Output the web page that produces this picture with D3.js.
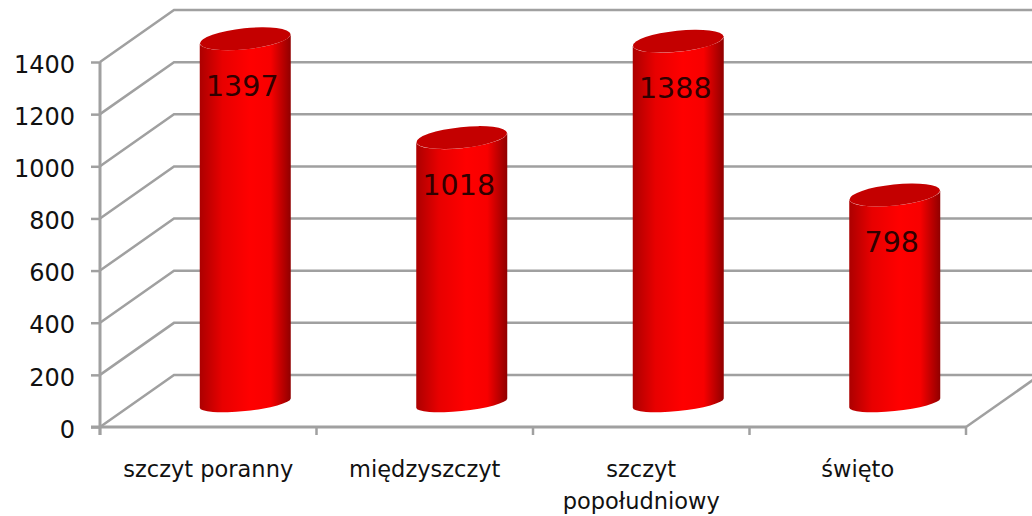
<!DOCTYPE html>
<html>
<head>
<meta charset="utf-8">
<script src="https://cdn.jsdelivr.net/npm/d3@7"></script>
<style>
  html, body { margin: 0; padding: 0; background: #fff; overflow: hidden; }
  text { font-family: "DejaVu Sans", sans-serif; fill: #111; }
</style>
</head>
<body>
<div id="my_dataviz"></div>
<script>

// values
var categories = ["szczyt poranny", "międzyszczyt", "szczyt popołudniowy", "święto"]
var values = [1397, 1018, 1388, 798]
var yTicks = [0, 200, 400, 600, 800, 1000, 1200, 1400]

var width = 1032, height = 516
var x0 = 100, x1 = 966, yBase = 427, yTop = 62
// depth of the fake 3d box
var depthX = 74, depthY = 52
var gridColor = "#a0a0a0"

var svg = d3.select("#my_dataviz")
  .append("svg")
    .attr("width", width)
    .attr("height", height)

var x = d3.scaleBand().domain(categories).range([x0, x1])
var y = d3.scaleLinear().domain([0, 1400]).range([yBase, yTop])

// gradient across the cylinder
var grad = svg.append("defs").append("linearGradient").attr("id", "barGrad")
grad.append("stop").attr("offset", "0%").attr("stop-color", "#ac0000")
grad.append("stop").attr("offset", "25%").attr("stop-color", "#e80000")
grad.append("stop").attr("offset", "55%").attr("stop-color", "#ff0000")
grad.append("stop").attr("offset", "78%").attr("stop-color", "#f80000")
grad.append("stop").attr("offset", "100%").attr("stop-color", "#900000")

// wall and floor lines
svg.append("g").selectAll("path")
  .data(yTicks)
  .enter().append("path")
    .attr("d", function(d) {
      return "M" + x0 + "," + y(d) + "L" + (x0 + depthX) + "," + (y(d) - depthY) + "L" + width + "," + (y(d) - depthY)
    })
    .attr("fill", "none")
    .attr("stroke", gridColor)
    .attr("stroke-width", 2.5)

// right edge of the floor
svg.append("line")
  .attr("x1", x1).attr("y1", yBase)
  .attr("x2", x1 + depthX).attr("y2", yBase - depthY)
  .attr("stroke", gridColor).attr("stroke-width", 2.5)

// Y axis
var yAxis = svg.append("g")
  .attr("transform", "translate(" + x0 + ",0)")
  .call(d3.axisLeft(y).tickValues(yTicks).tickSize(9).tickPadding(14).tickFormat(d3.format("d")))
yAxis.select(".domain").remove()
yAxis.selectAll("line").attr("stroke", gridColor).attr("stroke-width", 2.5)
yAxis.selectAll("text").style("font-size", "24px").attr("dx", "-2").attr("y", 2.5)
yAxis.append("line")
  .attr("y1", yTop).attr("y2", yBase + 8)
  .attr("stroke", gridColor).attr("stroke-width", 3)

// X axis line and ticks at the band edges
svg.append("line")
  .attr("x1", x0 - 9).attr("x2", x1)
  .attr("y1", yBase).attr("y2", yBase)
  .attr("stroke", gridColor).attr("stroke-width", 3)
svg.append("g").selectAll("line")
  .data(d3.range(categories.length + 1))
  .enter().append("line")
    .attr("x1", function(i) { return x0 + i * x.step() })
    .attr("x2", function(i) { return x0 + i * x.step() })
    .attr("y1", yBase)
    .attr("y2", yBase + 8)
    .attr("stroke", gridColor)
    .attr("stroke-width", 2.5)

// category labels, the long one goes on two lines
var labels = svg.append("g").selectAll("text")
  .data(categories)
  .enter().append("text")
    .attr("text-anchor", "middle")
    .attr("y", 477)
    .style("font-size", "22.5px")
labels.each(function(d) {
  var cx = x(d) + x.bandwidth() / 2
  var parts = d === "szczyt popołudniowy" ? ["szczyt", "popołudniowy"] : [d]
  d3.select(this).selectAll("tspan")
    .data(parts)
    .enter().append("tspan")
      .attr("x", cx)
      .attr("dy", function(p, i) { return i ? 32 : 0 })
      .text(function(p) { return p })
})

// cylinders: centre sits half way into the box depth
var rx = 45.5, ry = 10.5, ryBottom = 8, tilt = -6, lean = 4.6
var cx = function(d) { return x(d) + x.bandwidth() / 2 + depthX / 2 }
var cyOff = -24

var bars = svg.append("g").selectAll("g")
  .data(categories)
  .enter().append("g")

bars.append("path")
  .attr("fill", "url(#barGrad)")
  .attr("d", function(d, i) {
    var c = cx(d), top = y(values[i]) + cyOff, bot = y(0) + cyOff
    return "M" + (c - rx) + "," + (top + lean)
      + "L" + (c - rx) + "," + (bot + lean)
      + "A" + rx + "," + ryBottom + " " + tilt + " 0 0 " + (c + rx) + "," + (bot - lean)
      + "L" + (c + rx) + "," + (top - lean)
      + "A" + rx + "," + ry + " " + tilt + " 0 1 " + (c - rx) + "," + (top + lean) + "Z"
  })

bars.append("ellipse")
  .attr("rx", rx)
  .attr("ry", ry)
  .attr("fill", "#c40000")
  .attr("transform", function(d, i) {
    return "translate(" + cx(d) + "," + (y(values[i]) + cyOff) + ") rotate(" + tilt + ")"
  })

// value labels
bars.append("text")
  .attr("text-anchor", "middle")
  .attr("x", function(d) { return cx(d) - 3 })
  .attr("y", function(d, i) { return y(values[i]) + cyOff + 57 })
  .style("font-size", "28.5px")
  .style("fill", "#300000")
  .text(function(d, i) { return values[i] })

</script>
</body>
</html>
